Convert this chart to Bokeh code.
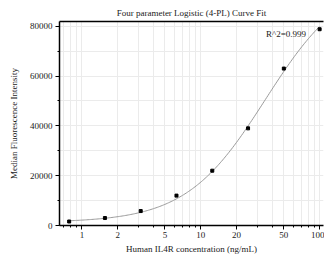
import numpy as np
from bokeh.plotting import figure
from bokeh.models import (FixedTicker, LinearAxis, Label, Range1d,
                          BasicTickFormatter, PrintfTickFormatter)
from bokeh.embed import file_html
from bokeh.resources import INLINE

# ---- data ----
concentration = [0.78125, 1.5625, 3.125, 6.25, 12.5, 25, 50, 100]
mfi = [1600, 3000, 5800, 12000, 22000, 39000, 63000, 78800]
x_major = [1, 2, 5, 10, 20, 50, 100]
x_minor = [0.7, 0.8, 0.9, 1, 2, 3, 4, 5, 6, 7, 8, 9, 10, 20, 30, 40, 50,
           60, 70, 80, 90, 100]
y_major = [0, 20000, 40000, 60000, 80000]
y_minor = [0, 10000, 20000, 30000, 40000, 50000, 60000, 70000, 80000]
# fitted 4PL parameters (bottom, top, EC50, hill slope)
fit_A, fit_D, fit_C, fit_B = 1200.0, 100000.0, 35.0, 1.3
r2_text = "R^2=0.999"
title_text = "Four parameter Logistic (4-PL) Curve Fit"

FONT = "Liberation Serif"

p = figure(width=324, height=256, x_axis_type="log",
           x_range=Range1d(0.648, 107.8), y_range=Range1d(0, 81900),
           output_backend="svg", toolbar_location=None,
           min_border_left=59, min_border_right=1, min_border_bottom=30,
           min_border_top=21)

p.title.text = title_text
p.title.align = "center"
p.title.text_font = FONT
p.title.text_font_size = "9px"
p.title.text_font_style = "normal"
p.title.text_color = "#222222"
p.title.standoff = 7
p.title.offset = 10

p.outline_line_color = None
p.background_fill_color = "white"

# 4PL curve from fitted parameters
xs = np.logspace(np.log10(concentration[0]), np.log10(concentration[-1]), 200)
ys = fit_D + (fit_A - fit_D) / (1 + (xs / fit_C) ** fit_B)
p.line(xs, ys, line_color="#9a9a9a", line_width=1)
p.scatter(concentration, mfi, marker="square", size=3, color="black")

# axes
for ax in (p.xaxis[0], p.yaxis[0]):
    ax.axis_line_color = "black"
    ax.axis_line_width = 1.5
    ax.major_tick_line_color = "black"
    ax.minor_tick_line_color = "black"
    ax.major_tick_out = 4
    ax.major_tick_in = 0
    ax.minor_tick_out = 2
    ax.minor_tick_in = 0
    ax.major_label_text_font = FONT
    ax.major_label_text_font_size = "9px"
    ax.major_label_text_color = "#222222"
    ax.axis_label_text_font = FONT
    ax.axis_label_text_font_size = "9px"
    ax.axis_label_text_font_style = "normal"
    ax.axis_label_text_color = "#222222"

p.xaxis.ticker = FixedTicker(ticks=x_major, minor_ticks=x_minor)
p.xaxis.formatter = PrintfTickFormatter(format="%d")
p.xaxis.axis_label = "Human IL4R concentration (ng/mL)"
p.xaxis.major_label_standoff = 2
p.xaxis.axis_label_standoff = 3

p.yaxis.ticker = FixedTicker(ticks=y_major, minor_ticks=y_minor)
p.yaxis.formatter = BasicTickFormatter(use_scientific=False)
p.yaxis.axis_label = "Median Fluorescence Intensity"
p.yaxis.major_label_standoff = 3
p.yaxis.axis_label_standoff = 8

# top border line
top = LinearAxis(ticker=FixedTicker(ticks=[]), axis_line_width=1.5,
                 axis_line_color="black", major_tick_out=0, minor_tick_out=0,
                 major_label_text_font_size="0px", major_label_standoff=0)
p.add_layout(top, "above")

# grid
p.xgrid.ticker = FixedTicker(ticks=x_major, minor_ticks=x_minor)
p.xgrid.grid_line_color = "#ebebeb"
p.xgrid.minor_grid_line_color = "#ebebeb"
p.ygrid.ticker = FixedTicker(ticks=y_minor)
p.ygrid.grid_line_color = "#ebebeb"

p.add_layout(Label(x=76.8, y=76700, text=r2_text, text_align="right",
                   text_baseline="middle", text_font=FONT,
                   text_font_size="9px", text_color="#222222"))

open("out.html", "w").write(file_html(p, INLINE))
